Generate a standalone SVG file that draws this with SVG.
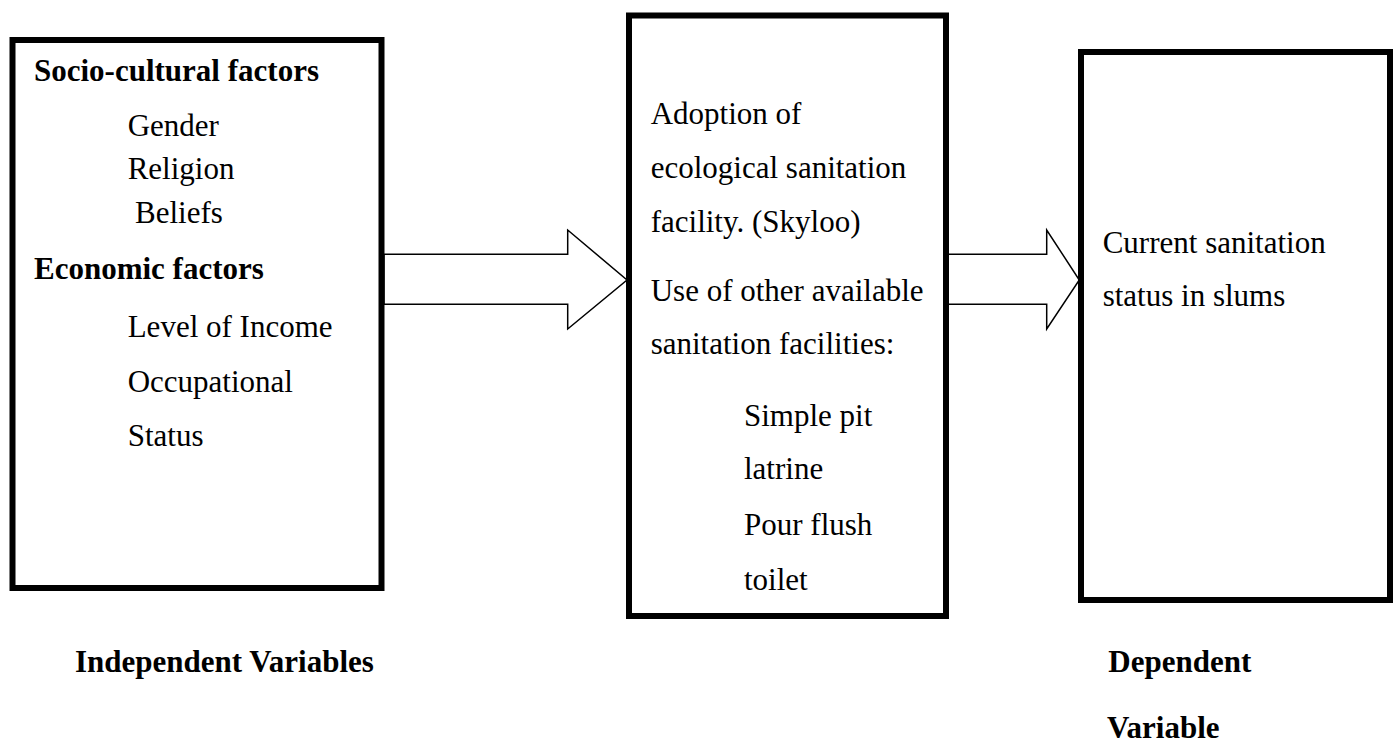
<svg xmlns="http://www.w3.org/2000/svg" width="1393" height="744" viewBox="0 0 1393 744">
<style>
.box{fill:#fff;stroke:#000;stroke-width:6}
.arrow{fill:#fff;stroke:#000;stroke-width:1.5;stroke-linejoin:miter}
text{font-family:"Liberation Serif","Times New Roman",serif;font-size:31px;fill:#000}
.b{font-weight:bold}
</style>
<rect width="1393" height="744" fill="#fff"/>
<g id="connectors">
<polygon class="arrow" points="384,254.3 567.7,254.3 567.7,230 627,280 567.7,329 567.7,304.3 384,304.3"/>
<polygon class="arrow" points="948,254.3 1046.7,254.3 1046.7,230 1079.3,280 1046.7,329 1046.7,304.3 948,304.3"/>
</g>
<g id="independent">
<rect class="box" x="12.5" y="40" width="369" height="548"/>
<text class="b" x="34" y="81">Socio-cultural factors</text>
<text x="127.7" y="136">Gender</text>
<text x="127.7" y="179">Religion</text>
<text x="135" y="222.7">Beliefs</text>
<text class="b" x="34" y="279.3">Economic factors</text>
<text x="127.7" y="337.3">Level of Income</text>
<text x="127.7" y="391.7">Occupational</text>
<text x="127.7" y="445.7">Status</text>
</g>
<g id="intervening">
<rect class="box" x="629" y="15.5" width="317" height="600.5"/>
<text x="650.7" y="124">Adoption of</text>
<text x="650.7" y="178.3">ecological sanitation</text>
<text x="650.7" y="231.7">facility. (Skyloo)</text>
<text x="650.7" y="300.7">Use of other available</text>
<text x="650.7" y="354">sanitation facilities:</text>
<text x="744" y="426">Simple pit</text>
<text x="744" y="479.3">latrine</text>
<text x="744" y="535">Pour flush</text>
<text x="744" y="590">toilet</text>
</g>
<g id="dependent">
<rect class="box" x="1081" y="52" width="309" height="548"/>
<text x="1102.7" y="252.7">Current sanitation</text>
<text x="1102.7" y="306">status in slums</text>
</g>
<g id="labels">
<text class="b" x="75" y="672">Independent Variables</text>
<text class="b" x="1108.3" y="671.7">Dependent</text>
<text class="b" x="1107" y="738.3">Variable</text>
</g>
</svg>
